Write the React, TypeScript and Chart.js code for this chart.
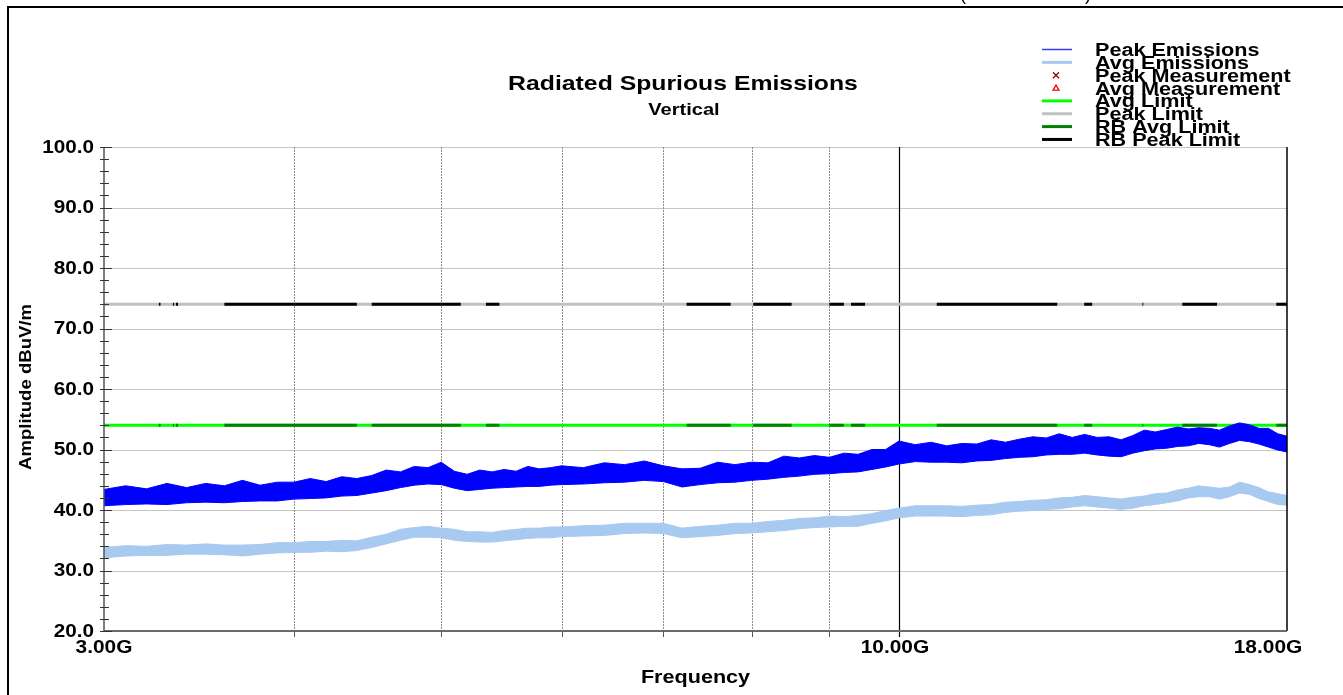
import React, { useEffect, useRef } from "react";
import { Chart, registerables } from "chart.js";
Chart.register(...registerables);

// Frequencies in GHz
const freqGHz = [
  3.0, 3.1, 3.2, 3.3, 3.4, 3.5, 3.6, 3.7, 3.8, 3.9,
  4.0, 4.1, 4.2, 4.3, 4.4, 4.5, 4.6, 4.7, 4.8, 4.9,
  5.0, 5.1, 5.2, 5.3, 5.4, 5.5, 5.6, 5.7, 5.8, 5.9,
  6.0, 6.2, 6.4, 6.6, 6.8, 7.0, 7.2, 7.4, 7.6, 7.8,
  8.0, 8.2, 8.4, 8.6, 8.8, 9.0, 9.2, 9.4, 9.6, 9.8,
  10.0, 10.25, 10.5, 10.75, 11.0, 11.25, 11.5, 11.75, 12.0, 12.25,
  12.5, 12.75, 13.0, 13.25, 13.5, 13.75, 14.0, 14.25, 14.5, 14.75,
  15.0, 15.25, 15.5, 15.75, 16.0, 16.25, 16.5, 16.75, 17.0, 17.25,
  17.5, 17.75, 18.0,
];

// Peak emissions trace: upper and lower edges of the noisy band (dBuV/m)
const peakHigh = [
  43.4, 44.0, 43.5, 44.4, 43.7, 44.4, 44.0, 44.9, 44.1, 44.6,
  44.6, 45.2, 44.7, 45.5, 45.2, 45.7, 46.6, 46.3, 47.2, 47.0,
  47.9, 46.4, 45.9, 46.6, 46.3, 46.7, 46.4, 47.2, 46.8, 47.0,
  47.3, 47.0, 47.8, 47.5, 48.1, 47.3, 46.8, 46.9, 47.9, 47.5,
  47.9, 47.8, 48.9, 48.6, 49.0, 48.7, 49.4, 49.2, 50.0, 50.0,
  51.4, 50.8, 51.2, 50.6, 51.0, 50.9, 51.6, 51.2, 51.7, 52.1,
  51.9, 52.6, 52.0, 52.5, 52.0, 52.1, 51.6, 52.3, 53.2, 52.9,
  53.3, 53.7, 53.4, 53.6, 53.5, 53.2, 53.9, 54.4, 54.1, 53.5,
  53.5, 52.6, 52.2,
];
const peakLow = [
  40.7, 40.9, 41.0, 40.9, 41.2, 41.3, 41.2, 41.4, 41.5, 41.5,
  41.8, 41.9, 42.0, 42.3, 42.4, 42.8, 43.2, 43.7, 44.1, 44.3,
  44.2, 43.6, 43.2, 43.4, 43.6, 43.7, 43.8, 43.9, 43.9, 44.1,
  44.2, 44.3, 44.5, 44.6, 44.9, 44.7, 43.8, 44.2, 44.5, 44.6,
  44.9, 45.1, 45.4, 45.6, 45.9, 46.0, 46.2, 46.3, 46.7, 47.1,
  47.6, 48.0, 47.9, 47.9, 47.8, 48.1, 48.2, 48.5, 48.7, 48.8,
  49.1, 49.2, 49.2, 49.4, 49.1, 48.9, 48.8, 49.4, 49.8, 50.1,
  50.2, 50.5, 50.6, 51.0, 50.8, 50.4, 51.0, 51.5, 51.3, 50.9,
  50.4, 49.9, 49.6,
];

// Average emissions trace: upper and lower edges
const avgHigh = [
  33.8, 34.1, 34.0, 34.3, 34.2, 34.4, 34.2, 34.2, 34.3, 34.6,
  34.6, 34.8, 34.8, 35.0, 34.9, 35.5, 36.0, 36.8, 37.1, 37.3,
  37.0, 36.8, 36.4, 36.4, 36.3, 36.6, 36.8, 37.0, 37.0, 37.2,
  37.2, 37.4, 37.5, 37.8, 37.8, 37.8, 37.0, 37.3, 37.5, 37.8,
  37.8, 38.1, 38.3, 38.6, 38.7, 39.0, 38.9, 39.1, 39.4, 39.9,
  40.3, 40.7, 40.7, 40.7, 40.6, 40.8, 40.9, 41.3, 41.4, 41.6,
  41.7, 42.0, 42.1, 42.4, 42.2, 42.0, 41.8, 42.1, 42.3, 42.7,
  42.8, 43.3, 43.6, 44.0, 43.8, 43.6, 43.8, 44.6, 44.2, 43.7,
  43.0, 42.7, 42.4,
];
const avgLow = [
  32.1, 32.4, 32.5, 32.5, 32.7, 32.7, 32.6, 32.4, 32.7, 32.9,
  33.0, 33.0, 33.2, 33.1, 33.3, 33.8, 34.4, 35.0, 35.5, 35.5,
  35.4, 35.0, 34.8, 34.7, 34.7, 34.9, 35.1, 35.3, 35.4, 35.4,
  35.6, 35.7, 35.8, 36.1, 36.2, 36.1, 35.4, 35.6, 35.8, 36.1,
  36.2, 36.4, 36.6, 36.9, 37.1, 37.2, 37.3, 37.3, 37.8, 38.2,
  38.7, 39.0, 39.0, 39.0, 38.9, 39.1, 39.2, 39.6, 39.8, 39.9,
  40.1, 40.2, 40.5, 40.7, 40.5, 40.3, 40.1, 40.3, 40.7, 40.9,
  41.2, 41.5, 42.0, 42.2, 42.2, 41.8, 42.2, 42.8, 42.6, 41.9,
  41.4, 40.9, 40.8,
];

const peakLimit = 74;
const avgLimit = 54;
// Restricted-band segments (GHz) where RB limits are drawn
const rbSegments = [
  [3.26, 3.268], [3.33, 3.336], [3.345, 3.356], [3.6, 4.4], [4.5, 5.15],
  [5.35, 5.46], [7.25, 7.75], [8.02, 8.5], [9.0, 9.2], [9.3, 9.5],
  [10.59, 12.71], [13.24, 13.4], [14.46, 14.48], [15.36, 16.19], [17.71, 18.0],
];

const yMin = 20;
const yMax = 100;
const yMajor = [20, 30, 40, 50, 60, 70, 80, 90, 100];
const xMin = 3;
const xMax = 18;
const xGrid = [4, 5, 6, 7, 8, 9];
const xLabels = ["3.00G", "10.00G", "18.00G"];
const xLabelValues = [3, 10, 18];

const chartTitle = "Radiated Spurious Emissions";
const chartSubtitle = "Vertical";
const xTitle = "Frequency";
const yTitle = "Amplitude dBuV/m";

const legendLabels = [
  "Peak Emissions",
  "Avg Emissions",
  "Peak Measurement",
  "Avg Measurement",
  "Avg Limit",
  "Peak Limit",
  "RB Avg Limit",
  "RB Peak Limit",
];

const COLORS = {
  peak: "#0000ff",
  peakLegend: "#3a3aff",
  avg: "#a8c9f0",
  avgLimit: "#00ff00",
  peakLimit: "#c0c0c0",
  rbAvg: "#008000",
  rbPeak: "#000000",
  peakMeas: "#990000",
  avgMeas: "#ff0000",
};

const FONT = "'Liberation Sans', Arial, sans-serif";

function series(values: number[]) {
  return freqGHz.map((f, i) => ({ x: f, y: values[i] }));
}
function flat(v: number) {
  return [
    { x: xMin, y: v },
    { x: xMax, y: v },
  ];
}
function segs(v: number) {
  const out: any[] = [];
  rbSegments.forEach(([s, e]) => {
    out.push({ x: s, y: v }, { x: e, y: v }, { x: e, y: null });
  });
  return out;
}

function drawText(
  ctx: CanvasRenderingContext2D,
  text: string,
  x: number,
  y: number,
  size: number,
  align: CanvasTextAlign,
  sx: number,
  rotate = 0,
  baseline: CanvasTextBaseline = "middle",
  weight = "bold"
) {
  ctx.save();
  ctx.translate(x, y);
  if (rotate) ctx.rotate(rotate);
  ctx.scale(sx, 1);
  ctx.font = `${weight} ${size}px ${FONT}`;
  ctx.textAlign = align;
  ctx.textBaseline = baseline;
  ctx.fillStyle = "#000";
  ctx.fillText(text, 0, 0);
  ctx.restore();
}

const decorPlugin = {
  id: "decor",
  beforeDatasetsDraw(chart: any) {
    const ctx: CanvasRenderingContext2D = chart.ctx;
    const xs = chart.scales.x;
    const ys = chart.scales.y;
    const { left, right, top, bottom } = chart.chartArea;
    ctx.save();
    // horizontal grid
    ctx.strokeStyle = "#c4c4c4";
    ctx.lineWidth = 1;
    yMajor.forEach((v) => {
      if (v === yMin) return;
      const y = Math.round(ys.getPixelForValue(v)) + 0.5;
      ctx.beginPath();
      ctx.moveTo(left, y);
      ctx.lineTo(right, y);
      ctx.stroke();
    });
    // vertical grid
    ctx.strokeStyle = "#8c8c8c";
    ctx.setLineDash([2, 1]);
    xGrid.forEach((v) => {
      const x = Math.round(xs.getPixelForValue(v)) + 0.5;
      ctx.beginPath();
      ctx.moveTo(x, top);
      ctx.lineTo(x, bottom);
      ctx.stroke();
    });
    ctx.setLineDash([]);
    // 10G line
    const x10 = Math.round(xs.getPixelForValue(10)) + 0.5;
    ctx.strokeStyle = "#000";
    ctx.lineWidth = 1.2;
    ctx.beginPath();
    ctx.moveTo(x10, top);
    ctx.lineTo(x10, bottom + 6);
    ctx.stroke();
    ctx.restore();
  },
  afterDatasetsDraw(chart: any) {
    const ctx: CanvasRenderingContext2D = chart.ctx;
    const xs = chart.scales.x;
    const ys = chart.scales.y;
    const { left, right, top, bottom } = chart.chartArea;
    ctx.save();
    // right border
    ctx.strokeStyle = "#000";
    ctx.lineWidth = 1.5;
    ctx.beginPath();
    ctx.moveTo(right, top);
    ctx.lineTo(right, bottom);
    ctx.stroke();
    // bottom axis
    ctx.strokeStyle = "#6a6a6a";
    ctx.lineWidth = 2;
    ctx.beginPath();
    ctx.moveTo(left, bottom);
    ctx.lineTo(right, bottom);
    ctx.stroke();
    // left axis
    ctx.strokeStyle = "#555";
    ctx.lineWidth = 1.5;
    ctx.beginPath();
    ctx.moveTo(left, top);
    ctx.lineTo(left, bottom);
    ctx.stroke();
    // y ticks
    ctx.strokeStyle = "#333";
    ctx.lineWidth = 1;
    for (let v = yMin; v <= yMax; v += 2) {
      const y = Math.round(ys.getPixelForValue(v)) + 0.5;
      const major = v % 10 === 0;
      ctx.beginPath();
      ctx.moveTo(left - 4, y);
      ctx.lineTo(left + (major ? 8 : 5), y);
      ctx.stroke();
    }
    // x ticks
    ctx.strokeStyle = "#555";
    xGrid.forEach((v) => {
      const x = Math.round(xs.getPixelForValue(v)) + 0.5;
      ctx.beginPath();
      ctx.moveTo(x, bottom);
      ctx.lineTo(x, bottom + 6);
      ctx.stroke();
    });
    ctx.restore();

    // y labels
    yMajor.forEach((v) => {
      const y = ys.getPixelForValue(v);
      drawText(ctx, v.toFixed(1), left - 10, y + 1, 18, "right", 1.15);
    });
    // x labels
    const xOffsets = [0, -4, -19];
    xLabelValues.forEach((v, i) => {
      const x = xs.getPixelForValue(v) + xOffsets[i];
      drawText(ctx, xLabels[i], x, bottom + 17, 18, "center", 1.16);
    });
    // titles
    drawText(ctx, chartTitle, 683, 84, 21, "center", 1.18);
    drawText(ctx, chartSubtitle, 684, 110, 17, "center", 1.18);
    drawText(ctx, xTitle, (left + right) / 2, 678, 18, "center", 1.2);
    drawText(ctx, yTitle, 27, 387, 16, "center", 1.16, -Math.PI / 2);

    // legend
    const lx0 = 1042;
    const lx1 = 1072;
    const tx = 1095;
    legendLabels.forEach((label, i) => {
      const ly = 49.5 + i * 12.85;
      ctx.save();
      if (i === 2) {
        ctx.strokeStyle = COLORS.peakMeas;
        ctx.lineWidth = 1.3;
        const cx = 1056, s = 3;
        ctx.beginPath();
        ctx.moveTo(cx - s, ly - s);
        ctx.lineTo(cx + s, ly + s);
        ctx.moveTo(cx + s, ly - s);
        ctx.lineTo(cx - s, ly + s);
        ctx.stroke();
      } else if (i === 3) {
        ctx.strokeStyle = COLORS.avgMeas;
        ctx.lineWidth = 1.3;
        const cx = 1056, s = 3;
        ctx.beginPath();
        ctx.moveTo(cx, ly - s);
        ctx.lineTo(cx + s, ly + s - 1);
        ctx.lineTo(cx - s, ly + s - 1);
        ctx.closePath();
        ctx.stroke();
      } else {
        const styles: any = {
          0: [COLORS.peakLegend, 1.5],
          1: [COLORS.avg, 3],
          4: [COLORS.avgLimit, 3],
          5: [COLORS.peakLimit, 3],
          6: [COLORS.rbAvg, 3],
          7: [COLORS.rbPeak, 3],
        };
        const [c, w] = styles[i];
        ctx.strokeStyle = c;
        ctx.lineWidth = w;
        ctx.beginPath();
        ctx.moveTo(lx0, ly);
        ctx.lineTo(lx1, ly);
        ctx.stroke();
      }
      ctx.restore();
      drawText(ctx, label, tx, ly + 1.5, 18, "left", 1.2);
    });

    // outer frame
    ctx.save();
    ctx.strokeStyle = "#000";
    ctx.lineWidth = 2;
    ctx.beginPath();
    ctx.moveTo(8, 695);
    ctx.lineTo(8, 7);
    ctx.lineTo(1343, 7);
    ctx.stroke();
    ctx.restore();
    // clipped parentheses of the heading above the frame
    drawText(ctx, "(", 963, 0, 18, "center", 1, 0, "alphabetic", "normal");
    drawText(ctx, ")", 1088, 0, 18, "center", 1, 0, "alphabetic", "normal");
  },
};

export default function App() {
  const ref = useRef<HTMLCanvasElement>(null);
  useEffect(() => {
    if (!ref.current) return;
    const chart = new Chart(ref.current, {
      type: "line",
      data: {
        datasets: [
          {
            label: "Peak Emissions",
            data: series(peakHigh),
            borderColor: COLORS.peak,
            backgroundColor: COLORS.peak,
            borderWidth: 1,
            pointRadius: 0,
            fill: "+1",
          },
          {
            label: "Peak Emissions (low)",
            data: series(peakLow),
            borderColor: COLORS.peak,
            borderWidth: 1,
            pointRadius: 0,
            fill: false,
          },
          {
            label: "Avg Emissions",
            data: series(avgHigh),
            borderColor: COLORS.avg,
            backgroundColor: COLORS.avg,
            borderWidth: 1,
            pointRadius: 0,
            fill: "+1",
          },
          {
            label: "Avg Emissions (low)",
            data: series(avgLow),
            borderColor: COLORS.avg,
            borderWidth: 1,
            pointRadius: 0,
            fill: false,
          },
          {
            label: "RB Peak Limit",
            data: segs(peakLimit),
            borderColor: COLORS.rbPeak,
            borderWidth: 3,
            pointRadius: 0,
            spanGaps: false,
            fill: false,
          },
          {
            label: "RB Avg Limit",
            data: segs(avgLimit),
            borderColor: COLORS.rbAvg,
            borderWidth: 3,
            pointRadius: 0,
            spanGaps: false,
            fill: false,
          },
          {
            label: "Peak Limit",
            data: flat(peakLimit),
            borderColor: COLORS.peakLimit,
            borderWidth: 3,
            pointRadius: 0,
            fill: false,
          },
          {
            label: "Avg Limit",
            data: flat(avgLimit),
            borderColor: COLORS.avgLimit,
            borderWidth: 3,
            pointRadius: 0,
            fill: false,
          },
        ],
      },
      options: {
        animation: false,
        responsive: false,
        devicePixelRatio: 1,
        layout: { padding: { left: 104, right: 56, top: 147, bottom: 64 } },
        scales: {
          x: { type: "logarithmic", min: xMin, max: xMax, display: false },
          y: { type: "linear", min: yMin, max: yMax, display: false },
        },
        plugins: {
          legend: { display: false },
          tooltip: { enabled: false },
        },
        elements: { line: { tension: 0 } },
      },
      plugins: [decorPlugin],
    } as any);
    return () => chart.destroy();
  }, []);
  return (
    <div style={{ position: "absolute", left: 0, top: 0, width: 1343, height: 695, background: "#fff" }}>
      <canvas ref={ref} width={1343} height={695} style={{ display: "block", width: 1343, height: 695 }} />
    </div>
  );
}
